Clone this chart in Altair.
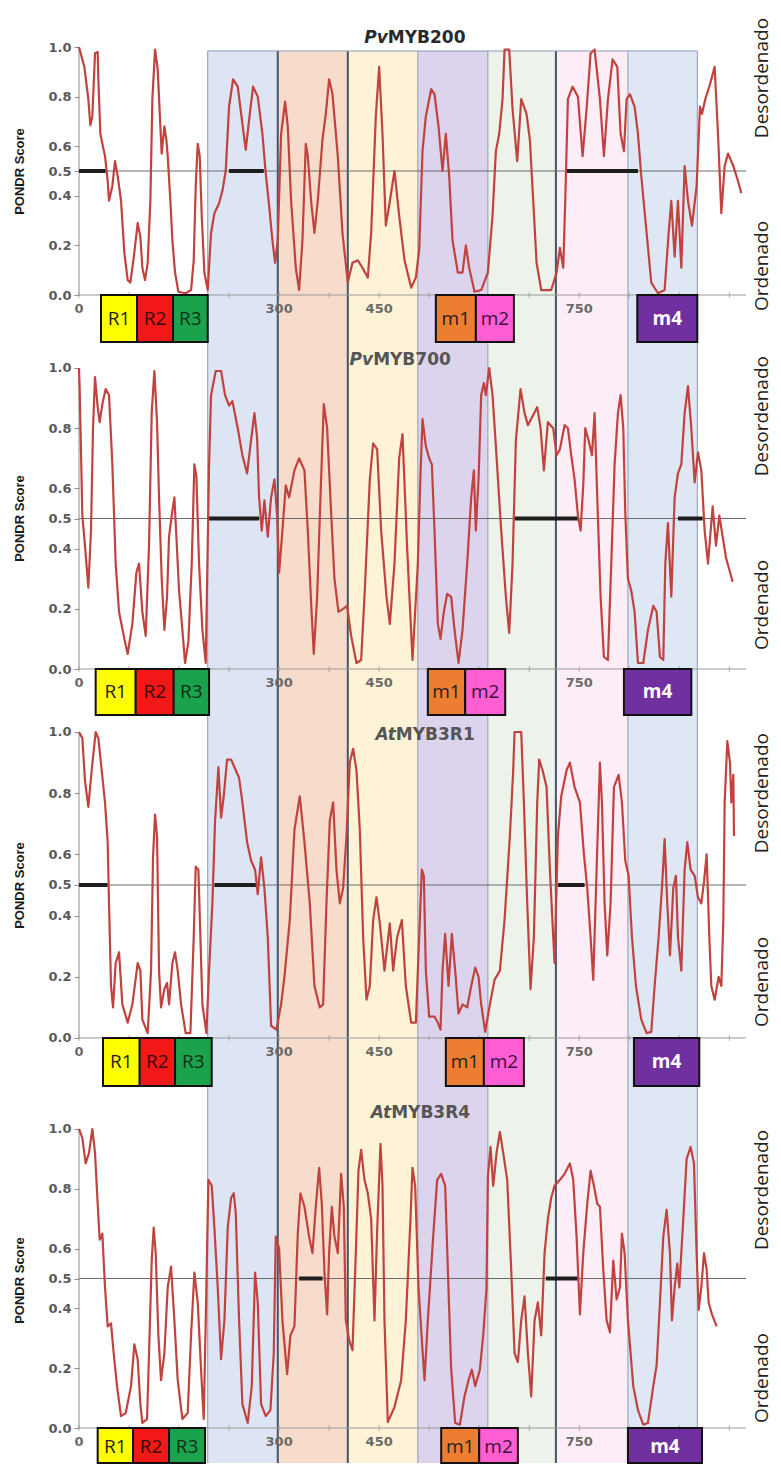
import altair as alt
import pandas as pd

# ---------------- data ----------------
pvmyb200 = [(0,1.0),(8,.92),(14,.79),(17,.685),(20,.72),(24,.975),(28,.98),(29,.87),(32,.65),(35,.61),(39,.56),(43,.46),(45,.38),(50,.44),(54,.54),(58,.48),(63,.38),(68,.17),(73,.06),(77,.05),(82,.15),(88,.29),(92,.235),(95,.11),(99,.06),(103,.13),(107,.38),(110,.79),(114,.99),(118,.91),(122,.68),(124,.57),(128,.68),(131,.625),(133,.56),(137,.38),(140,.22),(144,.09),(149,.013),(160,.007),(168,.02),(172,.14),(175,.44),(178,.61),(181,.56),(184,.32),(188,.09),(193,.02),(198,.25),(203,.33),(210,.37),(215,.42),(220,.50),(225,.76),(231,.87),(238,.84),(245,.69),(250,.585),(255,.705),(261,.84),(268,.80),(275,.65),(280,.49),(285,.36),(290,.22),(294,.13),(298,.22),(303,.65),(309,.78),(313,.68),(318,.38),(325,.11),(330,.02),(335,.22),(340,.61),(343,.56),(348,.38),(353,.25),(358,.38),(365,.625),(370,.73),(375,.87),(380,.81),(388,.56),(395,.25),(403,.05),(410,.13),(418,.14),(425,.11),(433,.07),(438,.25),(445,.72),(450,.92),(455,.65),(460,.28),(465,.36),(473,.50),(480,.32),(488,.14),(498,.03),(505,.07),(510,.18),(515,.58),(520,.72),(528,.83),(533,.81),(539,.68),(545,.50),(550,.65),(555,.48),(560,.22),(568,.09),(575,.09),(580,.20),(585,.11),(593,.013),(603,.02),(613,.09),(620,.32),(625,.58),(630,.65),(635,.79),(638,.99),(645,.99),(650,.75),(657,.54),(663,.79),(671,.73),(676,.625),(681,.38),(686,.13),(693,.02),(708,.02),(716,.09),(721,.19),(726,.11),(729,.38),(733,.79),(740,.84),(748,.80),(755,.56),(761,.75),(767,.975),(773,.99),(781,.79),(787,.56),(793,.79),(800,.95),(807,.92),(812,.65),(817,.58),(821,.79),(826,.81),(833,.76),(838,.65),(843,.48),(851,.25),(858,.05),(868,.007),(878,.02),(884,.25),(888,.38),(893,.155),(898,.38),(903,.11),(908,.52),(913,.38),(919,.28),(926,.44),(931,.76),(934,.73),(939,.79),(946,.85),(953,.92),(958,.65),(963,.33),(968,.52),(973,.57),(981,.52),(988,.46),(993,.41)]

pvmyb700 = [(0,1.0),(1,.93),(3,.72),(5,.51),(9,.41),(14,.27),(18,.46),(21,.80),(24,.97),(28,.87),(31,.82),(35,.88),(40,.93),(45,.91),(50,.68),(55,.35),(60,.19),(68,.10),(73,.05),(80,.15),(86,.32),(90,.35),(95,.19),(100,.11),(105,.41),(109,.85),(113,.99),(117,.82),(120,.57),(124,.30),(128,.13),(132,.24),(135,.44),(139,.51),(143,.57),(146,.44),(150,.26),(155,.13),(159,.02),(164,.09),(169,.35),(173,.68),(176,.64),(180,.35),(185,.13),(190,.02),(195,.68),(198,.91),(205,.99),(213,.99),(219,.91),(225,.875),(230,.89),(238,.80),(245,.71),(252,.65),(258,.76),(263,.85),(267,.77),(270,.57),(274,.46),(278,.56),(283,.44),(288,.57),(293,.63),(297,.51),(300,.32),(305,.46),(310,.61),(315,.57),(323,.66),(330,.70),(338,.66),(343,.46),(348,.22),(352,.05),(357,.24),(362,.57),(367,.88),(372,.80),(378,.52),(383,.30),(389,.19),(396,.20),(402,.21),(408,.11),(416,.02),(423,.03),(428,.24),(436,.63),(441,.75),(447,.73),(453,.46),(461,.24),(466,.15),(473,.35),(480,.70),(485,.78),(492,.40),(500,.03),(508,.35),(512,.65),(515,.83),(520,.74),(525,.70),(529,.68),(533,.46),(538,.15),(542,.10),(547,.19),(552,.25),(558,.24),(563,.13),(569,.02),(575,.13),(582,.35),(588,.57),(592,.66),(595,.46),(599,.63),(603,.91),(607,.95),(610,.91),(615,1.0),(620,.91),(625,.74),(633,.46),(640,.24),(645,.12),(650,.35),(655,.76),(662,.93),(668,.85),(673,.81),(680,.84),(687,.87),(692,.80),(697,.66),(703,.82),(711,.80),(716,.71),(721,.73),(728,.81),(733,.80),(738,.71),(743,.63),(748,.51),(752,.46),(756,.61),(759,.80),(764,.76),(769,.71),(773,.85),(777,.57),(782,.24),(787,.04),(793,.03),(798,.35),(803,.68),(808,.85),(812,.91),(816,.80),(819,.52),(823,.30),(828,.26),(833,.19),(838,.02),(846,.02),(853,.13),(861,.21),(866,.19),(871,.04),(876,.03),(879,.35),(883,.485),(888,.24),(893,.57),(898,.65),(903,.68),(908,.85),(913,.94),(918,.80),(923,.62),(928,.72),(933,.66),(938,.46),(943,.35),(950,.54),(955,.41),(960,.51),(965,.44),(970,.37),(975,.33),(980,.29)]

atmyb3r1 = [(0,1.0),(5,.98),(9,.84),(14,.755),(19,.875),(25,1.0),(29,.98),(34,.875),(39,.77),(43,.64),(45,.44),(48,.17),(51,.10),(55,.245),(60,.28),(65,.11),(73,.05),(80,.11),(88,.245),(92,.22),(95,.06),(103,.016),(108,.22),(111,.59),(114,.73),(117,.66),(120,.22),(123,.10),(128,.16),(132,.18),(135,.11),(140,.245),(144,.28),(148,.22),(153,.11),(160,.016),(167,.016),(172,.33),(175,.56),(179,.55),(182,.33),(185,.11),(191,.016),(195,.22),(200,.44),(204,.71),(209,.885),(213,.72),(217,.79),(222,.91),(228,.91),(235,.875),(240,.85),(245,.77),(252,.64),(258,.58),(264,.55),(268,.47),(273,.59),(278,.49),(283,.33),(288,.04),(296,.027),(303,.11),(308,.20),(316,.385),(323,.68),(331,.79),(338,.64),(346,.44),(353,.17),(361,.10),(366,.11),(371,.44),(376,.71),(381,.77),(386,.55),(391,.44),(396,.49),(401,.66),(406,.90),(411,.945),(416,.875),(421,.68),(426,.33),(431,.125),(436,.17),(441,.385),(446,.46),(451,.375),(458,.22),(466,.375),(471,.22),(477,.33),(484,.385),(490,.17),(498,.05),(505,.05),(510,.33),(514,.55),(517,.53),(520,.22),(525,.07),(533,.07),(538,.05),(542,.027),(545,.22),(549,.34),(554,.17),(559,.34),(564,.22),(569,.08),(575,.11),(582,.10),(588,.17),(594,.23),(599,.20),(603,.11),(609,.02),(616,.11),(623,.19),(631,.22),(638,.385),(646,.66),(651,.875),(653,1.0),(663,1.0),(667,.77),(672,.44),(677,.16),(682,.33),(687,.77),(690,.91),(695,.875),(701,.82),(706,.55),(711,.33),(713,.245),(718,.66),(723,.79),(731,.875),(736,.90),(743,.82),(751,.77),(757,.60),(762,.49),(767,.33),(771,.19),(776,.55),(781,.90),(784,.77),(788,.44),(792,.27),(797,.44),(802,.82),(809,.86),(814,.77),(819,.58),(824,.53),(829,.33),(835,.17),(843,.06),(851,.016),(858,.02),(863,.17),(869,.33),(874,.49),(878,.65),(882,.44),(886,.27),(891,.49),(895,.53),(898,.33),(903,.22),(908,.55),(912,.64),(917,.55),(923,.53),(928,.46),(933,.44),(937,.51),(941,.60),(945,.33),(948,.17),(953,.125),(959,.20),(963,.17),(966,.385),(968,.77),(972,.97),(976,.90),(978,.77),(981,.86),(982,.66)]

atmyb3r4 = [(0,1.0),(5,.97),(10,.885),(15,.92),(20,1.0),(24,.92),(28,.75),(31,.63),(35,.65),(39,.47),(43,.34),(48,.35),(52,.25),(57,.14),(63,.04),(70,.05),(78,.14),(83,.28),(88,.23),(92,.08),(95,.017),(102,.03),(105,.25),(109,.56),(112,.67),(115,.585),(119,.31),(123,.16),(128,.25),(133,.47),(138,.54),(143,.36),(148,.16),(155,.03),(163,.05),(168,.31),(173,.52),(178,.42),(183,.195),(187,.03),(190,.36),(194,.83),(199,.81),(203,.67),(208,.47),(213,.23),(218,.36),(223,.67),(228,.77),(232,.785),(235,.72),(240,.36),(245,.08),(253,.017),(259,.14),(264,.52),(268,.42),(273,.08),(280,.04),(287,.06),(292,.25),(295,.64),(300,.60),(305,.36),(312,.18),(317,.31),(323,.34),(328,.65),(332,.785),(338,.74),(345,.64),(350,.585),(355,.74),(360,.87),(364,.75),(368,.52),(372,.38),(375,.585),(379,.74),(383,.64),(388,.585),(393,.85),(397,.74),(400,.36),(405,.295),(410,.26),(415,.585),(419,.86),(423,.93),(428,.83),(433,.785),(438,.70),(443,.36),(447,.66),(452,.95),(455,.81),(458,.36),(463,.02),(473,.07),(483,.16),(490,.36),(497,.70),(500,.87),(504,.81),(509,.47),(514,.295),(518,.16),(523,.36),(531,.64),(537,.83),(543,.85),(549,.81),(553,.53),(558,.195),(564,.017),(571,.011),(578,.106),(584,.16),(589,.195),(594,.14),(601,.195),(606,.31),(611,.47),(613,.84),(617,.94),(621,.81),(626,.92),(631,.99),(636,.92),(642,.83),(648,.53),(653,.25),(658,.22),(663,.36),(668,.44),(673,.25),(678,.106),(683,.36),(688,.42),(693,.31),(698,.585),(703,.70),(708,.77),(713,.81),(721,.83),(728,.85),(736,.885),(741,.83),(746,.64),(751,.38),(756,.585),(762,.75),(767,.86),(772,.81),(777,.75),(781,.74),(786,.53),(791,.36),(796,.32),(801,.56),(806,.43),(811,.47),(814,.65),(818,.585),(823,.36),(831,.14),(838,.06),(846,.011),(853,.017),(861,.14),(866,.21),(871,.42),(876,.64),(881,.73),(886,.585),(889,.36),(893,.47),(897,.55),(900,.47),(906,.70),(911,.90),(917,.94),(922,.885),(926,.585),(929,.395),(933,.47),(937,.585),(941,.53),(944,.42),(949,.38),(956,.34)]

protein_prefix = ["Pv", "Pv", "At", "At"]
protein_suffix = ["MYB200", "MYB700", "MYB3R1", "MYB3R4"]

# disordered stretches (thick segments on the 0.5 threshold)
disorder_start = [[0, 225, 730], [195, 653, 898], [0, 203, 718], [330, 700]]
disorder_end = [[40, 277, 838], [270, 748, 935], [43, 268, 758], [365, 748]]

# domain / motif boxes
box_labels = ["R1", "R2", "R3", "m1", "m2", "m4"]
box_start = [[33, 87, 141, 535, 595, 837],
             [25, 85, 142, 523, 579, 817],
             [36, 91, 144, 550, 607, 832],
             [28, 81, 135, 543, 600, 823]]
box_end = [[87, 141, 193, 595, 652, 927],
           [85, 142, 195, 579, 639, 918],
           [91, 144, 199, 607, 667, 930],
           [81, 135, 189, 600, 658, 934]]

# shaded regions spanning all panels
band_start = [193, 298, 403, 508, 613, 715, 823]
band_end = [298, 403, 508, 613, 715, 823, 927]

y_tick_values = [0.0, 0.2, 0.4, 0.5, 0.6, 0.8, 1.0]
x_tick_labels = [0, 300, 450, 750]
x_tick_marks = [0, 75, 150, 225, 300, 375, 450, 525, 600, 675, 750, 825, 900, 975]
side_labels = ["Desordenado", "Ordenado"]

# ---------------- styles / layout ----------------
band_colors = ["#dde5f4", "#f7dccb", "#fef3d6", "#dcd4ec", "#edf3ea", "#fcedf6", "#dfe7f5"]
edge_pos = band_start + [band_end[-1]]
edge_width = [1, 2, 2, 1, 1, 2, 1, 1]
edge_color = ["#8a9bb5", "#44546a", "#44546a", "#8a9bb5", "#8a9bb5", "#44546a", "#8a9bb5", "#8a9bb5"]
box_fill = ["#ffff00", "#f21818", "#1ba24c", "#ed7d31", "#ff5fd2", "#7030a0"]
box_text = ["#222222", "#3a0a0a", "#0f2f18", "#222222", "#3a1040", "#ffffff"]
LINE = "#c0433f"
SIDE_X = 1024

layouts = [
    dict(dmin=-0.2016, dmax=1.1573, h=337, band_top=0.984, box_bot=-0.1895, box_ty=-0.097,
         title_y=1.036, title_x=463, des=0.875, ord=0.117, axis_ty=163, tcol="#2a2a2a"),
    dict(dmin=-0.1694, dmax=1.0764, h=375, band_top=1.0764, box_bot=-0.153, box_ty=-0.076,
         title_y=1.027, title_x=441, des=0.84, ord=0.213, axis_ty=173, tcol="#555555"),
    dict(dmin=-0.1765, dmax=1.0392, h=372, band_top=1.0392, box_bot=-0.157, box_ty=-0.078,
         title_y=0.99, title_x=475, des=0.80, ord=0.183, axis_ty=165, tcol="#555555"),
    dict(dmin=-0.117, dmax=1.1237, h=371, band_top=1.1237, box_bot=-0.117, box_ty=-0.062,
         title_y=1.054, title_x=468, des=0.796, ord=0.167, axis_ty=188, tcol="#555555"),
]
series = [pvmyb200, pvmyb700, atmyb3r1, atmyb3r4]
W = 667


def panel(i):
    L = layouts[i]
    xs = alt.Scale(domain=[0, 1000], nice=False, zero=False)
    ys = alt.Scale(domain=[L["dmin"], L["dmax"]], nice=False, zero=False)
    yaxis = alt.Axis(values=y_tick_values, format=".1f", domain=False, grid=False, tickSize=5,
                     tickColor="#8c8c8c", labelFont="DejaVu Sans", labelFontWeight="bold",
                     labelFontSize=13, labelColor="#5a5a5a", labelPadding=3,
                     title="PONDR Score", titleFont="Liberation Sans", titleFontSize=13,
                     titleFontWeight="bold", titleColor="#1a1a1a", titlePadding=21,
                     titleY=L["axis_ty"])

    def X(f):
        return alt.X(f, type="quantitative", scale=xs, axis=None)

    def Y(f):
        return alt.Y(f, type="quantitative", scale=ys, axis=yaxis)

    bands = pd.DataFrame({"b0": band_start, "b1": band_end, "col": band_colors,
                          "top": L["band_top"], "bot": L["dmin"]})
    band_layer = alt.Chart(bands).mark_rect().encode(
        x=X("b0"), x2="b1", y=Y("top"), y2="bot", color=alt.Color("col:N", scale=None))

    edges = pd.DataFrame({"ex": edge_pos, "w": edge_width, "c": edge_color,
                          "top": L["band_top"], "bot": L["dmin"]})
    edge_layer = alt.Chart(edges).mark_rule().encode(
        x=X("ex"), y=Y("top"), y2="bot",
        strokeWidth=alt.StrokeWidth("w:Q", scale=None), color=alt.Color("c:N", scale=None))

    layers = [band_layer, edge_layer]
    if i == 0:
        topb = pd.DataFrame({"a": [band_start[0]], "b": [band_end[-1]], "y": [L["band_top"]]})
        layers.append(alt.Chart(topb).mark_rule(color="#8a9bb5", strokeWidth=1).encode(
            x=X("a"), x2="b", y=Y("y")))

    ref = pd.DataFrame({"a": [0], "b": [1000], "y": [0.5]})
    layers.append(alt.Chart(ref).mark_rule(color="#6b6b6b", strokeWidth=1).encode(
        x=X("a"), x2="b", y=Y("y")))

    base = pd.DataFrame({"a": [0], "b": [1000], "y": [0.0]})
    layers.append(alt.Chart(base).mark_rule(color="#999999", strokeWidth=1).encode(
        x=X("a"), x2="b", y=Y("y")))
    yline = pd.DataFrame({"x": [0], "a": [0.0], "b": [1.0]})
    layers.append(alt.Chart(yline).mark_rule(color="#8c8c8c", strokeWidth=1).encode(
        x=X("x"), y=Y("a"), y2="b"))

    tk = pd.DataFrame({"t": x_tick_marks, "y": 0.0})
    layers.append(alt.Chart(tk).mark_tick(orient="vertical", size=6, thickness=1, color="#999999").encode(
        x=X("t"), y=Y("y")))
    tl = pd.DataFrame({"t": x_tick_labels, "y": 0.0})
    layers.append(alt.Chart(tl).mark_text(dy=14, font="DejaVu Sans", fontWeight="bold", fontSize=13,
                                          color="#6a6a6a").encode(
        x=X("t"), y=Y("y"), text=alt.Text("t:Q", format="d")))

    seg = pd.DataFrame({"a": disorder_start[i], "b": disorder_end[i], "y": 0.5})
    layers.append(alt.Chart(seg).mark_rule(color="#1e1e1e", strokeWidth=4).encode(
        x=X("a"), x2="b", y=Y("y")))

    df = pd.DataFrame(series[i], columns=["pos", "score"])
    layers.append(alt.Chart(df).mark_line(color=LINE, strokeWidth=2.2, strokeJoin="round").encode(
        x=X("pos"), y=Y("score"), order="pos:Q"))

    bx = pd.DataFrame({"lab": box_labels, "b0": box_start[i], "b1": box_end[i], "fill": box_fill,
                       "tc": box_text, "top": 0.0, "bot": L["box_bot"], "ty": L["box_ty"]})
    bx["mid"] = (bx["b0"] + bx["b1"]) / 2
    layers.append(alt.Chart(bx).mark_rect(stroke="#111111", strokeWidth=2).encode(
        x=X("b0"), x2="b1", y=Y("top"), y2="bot", fill=alt.Fill("fill:N", scale=None)))
    layers.append(alt.Chart(bx).transform_filter(alt.datum.lab != "m4").mark_text(
        font="Open Sans", fontSize=19).encode(
        x=X("mid"), y=Y("ty"), text="lab:N", color=alt.Color("tc:N", scale=None)))
    layers.append(alt.Chart(bx).transform_filter(alt.datum.lab == "m4").mark_text(
        font="Open Sans", fontSize=19, fontWeight="bold").encode(
        x=X("mid"), y=Y("ty"), text="lab:N", color=alt.Color("tc:N", scale=None)))

    tt = pd.DataFrame({"x": [L["title_x"]], "y": [L["title_y"]],
                       "p": [protein_prefix[i]], "s": [protein_suffix[i]]})
    layers.append(alt.Chart(tt).mark_text(align="right", font="DejaVu Sans", fontSize=17,
                                          fontWeight="bold", fontStyle="italic", color=L["tcol"]).encode(
        x=X("x"), y=Y("y"), text="p:N"))
    layers.append(alt.Chart(tt).mark_text(align="left", font="DejaVu Sans", fontSize=17,
                                          fontWeight="bold", color=L["tcol"]).encode(
        x=X("x"), y=Y("y"), text="s:N"))

    side = pd.DataFrame({"t": side_labels, "x": SIDE_X, "y": [L["des"], L["ord"]]})
    layers.append(alt.Chart(side).mark_text(angle=270, font="Open Sans", fontSize=19,
                                            color="#222222").encode(
        x=X("x"), y=Y("y"), text="t:N"))

    return alt.layer(*layers).properties(width=W, height=L["h"])


chart = alt.vconcat(*[panel(i) for i in range(4)], spacing=0, bounds="flush").configure_view(
    stroke=None).properties(padding={"left": 5, "top": 0, "right": 0, "bottom": 0})

chart.save("out.html", embed_options={"renderer": "svg", "actions": False})
